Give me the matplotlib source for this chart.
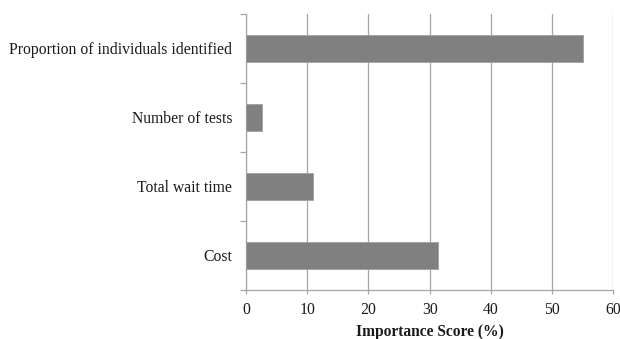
import numpy as np
import matplotlib
matplotlib.use('Agg')
import matplotlib.pyplot as plt

# data (bottom to top)
categories = ['Cost', 'Total wait time', 'Number of tests',
              'Proportion of individuals identified']
scores = [31.3, 11.0, 2.6, 55.1]
xticks = [0, 10, 20, 30, 40, 50, 60]

plt.rcParams['font.family'] = ['Liberation Serif', 'DejaVu Serif']

fig = plt.figure(figsize=(6.2, 3.39), dpi=100)
ax = fig.add_axes([0.397, 0.145, 0.592, 0.814])

ypos = np.arange(len(categories))
ax.barh(ypos, scores, height=0.4, color='#808080',
        edgecolor='#a0a0a0', linewidth=0.6, zorder=3)

ax.set_xlim(0, 60)
ax.set_ylim(-0.5, len(categories) - 0.5)
ax.set_xticks(xticks)
ax.set_yticks(ypos)
ax.set_yticklabels(categories)
ax.set_yticks(np.arange(-0.5, len(categories), 1.0), minor=True)

ax.xaxis.grid(True, color='#a6a6a6', linewidth=0.9, zorder=0)
ax.tick_params(axis='y', which='major', length=0, pad=10,
               labelsize=11.3, labelcolor='#1a1a1a')
ax.tick_params(axis='y', which='minor', length=4, color='#a6a6a6',
               width=0.9)
ax.tick_params(axis='x', length=3, color='#a6a6a6', width=0.9,
               labelsize=11.3, labelcolor='#1a1a1a', pad=6)

for s in ['top', 'right']:
    ax.spines[s].set_visible(False)
for s in ['left', 'bottom']:
    ax.spines[s].set_color('#a6a6a6')
    ax.spines[s].set_linewidth(0.9)

ax.set_xlabel('Importance Score (%)', fontsize=11.2, fontweight='bold',
              labelpad=4, color='#1a1a1a')

fig.savefig('out.png', dpi=100, facecolor='white')
